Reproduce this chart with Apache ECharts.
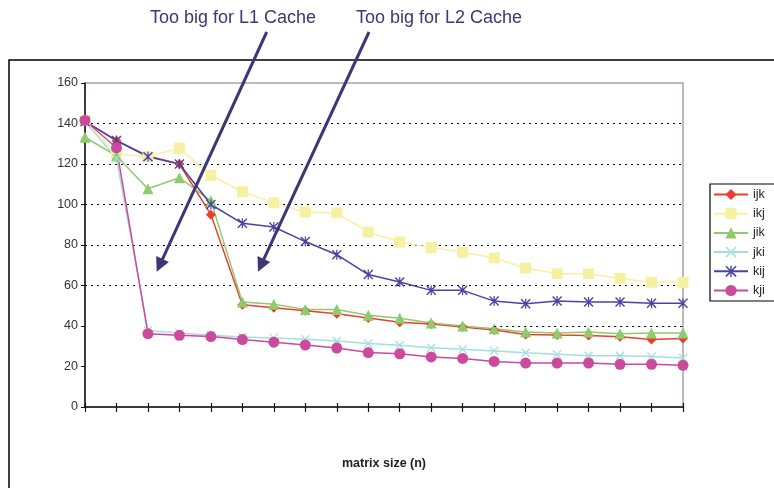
<!DOCTYPE html>
<html>
<head>
<meta charset="utf-8">
<script src="https://cdn.jsdelivr.net/npm/echarts@6/dist/echarts.min.js"></script>
<style>
  html, body { margin: 0; padding: 0; background: #fff; }
  #chart { width: 774px; height: 488px; }
</style>
</head>
<body>
<div id="chart"></div>
<script>
// matrix sizes (labels are not shown on the original)
var sizes = ["25", "50", "75", "100", "125", "150", "175", "200", "225", "250",
             "275", "300", "325", "350", "375", "400", "425", "450", "475", "500"];

var ijk = [141, 131.5, 124, 120, 95, 50.5, 49, 47.5, 46, 44, 41.8, 41, 39.5, 38, 35.8, 35.5, 35.3, 34.7, 33.3, 33.8];
var ikj = [141.5, 125, 123.6, 127.8, 114.4, 106.3, 100.8, 96.3, 95.9, 86.4, 81.5, 78.7, 76.4, 73.6, 68.6, 65.8, 65.8, 63.5, 61.6, 61.6];
var jik = [133.2, 124, 107.8, 113.2, 101.8, 51.8, 50.8, 48.2, 48.2, 45.3, 43.8, 41.5, 40, 38.6, 37, 36.6, 37, 36.2, 36.5, 36.5];
var jki = [141, 122.8, 37.8, 36.6, 35.4, 34.6, 34.1, 33.4, 32.6, 31.3, 30.5, 29.3, 28.5, 27.7, 26.8, 26, 25.3, 25.3, 24.9, 24.2];
var kij = [141, 131.6, 123.6, 120, 100, 90.7, 88.9, 81.7, 75.2, 65.4, 61.7, 57.6, 57.6, 52.3, 51, 52.3, 51.8, 51.8, 51.2, 51.2];
var kji = [141.5, 128, 36.2, 35.4, 34.8, 33.3, 32, 30.6, 29.1, 26.9, 26.3, 24.7, 24, 22.5, 21.7, 21.7, 21.7, 21.1, 21.1, 20.6];

var yTicks = [0, 20, 40, 60, 80, 100, 120, 140, 160];

var xMark = 'path://M0,1 L1,0 L5,4 L9,0 L10,1 L6,5 L10,9 L9,10 L5,6 L1,10 L0,9 L4,5 Z';
var starMark = 'path://M0,1 L1,0 L5,4 L9,0 L10,1 L6,5 L10,9 L9,10 L5,6 L1,10 L0,9 L4,5 Z M4.4,0 L5.6,0 L5.6,10 L4.4,10 Z';

var ink = '#3d3776';

function arrow(x1, y1, x2, y2) {
  var dx = x2 - x1, dy = y2 - y1;
  var len = Math.sqrt(dx * dx + dy * dy);
  var ux = dx / len, uy = dy / len;
  var hl = 14, hw = 7;
  var bx = x2 - ux * hl, by = y2 - uy * hl;
  return [
    { type: 'line', shape: { x1: x1, y1: y1, x2: bx + ux * 2, y2: by + uy * 2 },
      style: { stroke: ink, lineWidth: 3 }, z: 100 },
    { type: 'polygon', shape: { points: [[x2, y2], [bx - uy * hw, by + ux * hw], [bx + uy * hw, by - ux * hw]] },
      style: { fill: ink }, z: 100 }
  ];
}

function mk(name, data, color, symbol, size) {
  return {
    name: name, type: 'line', data: data,
    symbol: symbol, symbolSize: size,
    lineStyle: { color: color, width: 1.5 },
    itemStyle: { color: color },
    emphasis: { disabled: true }
  };
}

var series = [
  mk('ijk', ijk, '#ee3d2e', 'diamond', 10),
  mk('ikj', ikj, '#f6f1a2', 'rect', 11),
  mk('jik', jik, '#8ecb6c', 'triangle', 11),
  mk('jki', jki, '#a4dfdb', xMark, 9),
  mk('kij', kij, '#4a43a6', starMark, 10),
  mk('kji', kji, '#cc4a9d', 'circle', 11)
];

// partial dotted gridline at 40 seen on the right side of the original
series[0].markLine = {
  silent: true, symbol: 'none', label: { show: false },
  lineStyle: { color: '#000', type: [2, 4], width: 1.2 },
  data: [[{ coord: [13, 40] }, { coord: [19, 40] }]]
};

var myChart = echarts.init(document.getElementById('chart'));

var option = {
  animation: false,
  backgroundColor: '#fff',
  textStyle: { fontFamily: 'Liberation Sans, Arial, sans-serif' },
  grid: { left: 85, right: 91, top: 83, bottom: 81, show: true, borderColor: '#aaa3a3', borderWidth: 1.5, backgroundColor: 'transparent' },
  legend: {
    orient: 'vertical',
    left: 710, top: 184,
    itemWidth: 34, itemHeight: 14, itemGap: 6.2,
    padding: [4, 14, 4, 3],
    borderColor: '#000', borderWidth: 1.2,
    textStyle: { fontSize: 12.5, color: '#222' },
    data: ['ijk', 'ikj', 'jik', 'jki', 'kij', 'kji']
  },
  xAxis: [{
    type: 'category', data: sizes, boundaryGap: false,
    name: 'matrix size (n)', nameLocation: 'middle', nameGap: 50,
    nameTextStyle: { fontWeight: 'bold', fontSize: 12.5, color: '#222' },
    axisLine: { lineStyle: { color: '#111', width: 1.5 } },
    axisTick: { show: true, length: 5, lineStyle: { color: '#111', width: 1.2 } },
    axisLabel: { show: false },
    splitLine: { show: false }
  }, {
    type: 'category', data: sizes, boundaryGap: false, position: 'bottom',
    axisLine: { show: false },
    axisTick: { show: true, inside: true, length: 4, lineStyle: { color: '#111', width: 1.2 } },
    axisLabel: { show: false },
    splitLine: { show: false }
  }],
  yAxis: {
    type: 'value', min: yTicks[0], max: yTicks[yTicks.length - 1], interval: 20,
    axisLine: { show: true, lineStyle: { color: '#111', width: 1.5 } },
    axisTick: { show: true, length: 4, lineStyle: { color: '#111' } },
    axisLabel: { fontSize: 12.5, color: '#333', margin: 7 },
    splitLine: {
      show: true,
      lineStyle: {
        color: ['transparent', 'transparent', 'transparent', '#000', '#000', '#000', '#000', '#000', 'transparent'],
        type: [2, 4], width: 1.2
      }
    }
  },
  graphic: [
    { type: 'rect', shape: { x: 9, y: 60, width: 820, height: 500 },
      style: { fill: 'none', stroke: '#000', lineWidth: 1.5 }, z: -1, silent: true },
    { type: 'text', x: 233, y: 18, style: { text: 'Too big for L1 Cache', fill: ink, fontSize: 18,
      fontFamily: 'Liberation Sans, Arial, sans-serif', align: 'center', verticalAlign: 'middle' } },
    { type: 'text', x: 439, y: 18, style: { text: 'Too big for L2 Cache', fill: ink, fontSize: 18,
      fontFamily: 'Liberation Sans, Arial, sans-serif', align: 'center', verticalAlign: 'middle' } }
  ].concat(arrow(266.7, 32, 156.7, 271.7)).concat(arrow(369, 32, 258, 271.7)),
  series: series
};

myChart.setOption(option);
</script>
</body>
</html>
